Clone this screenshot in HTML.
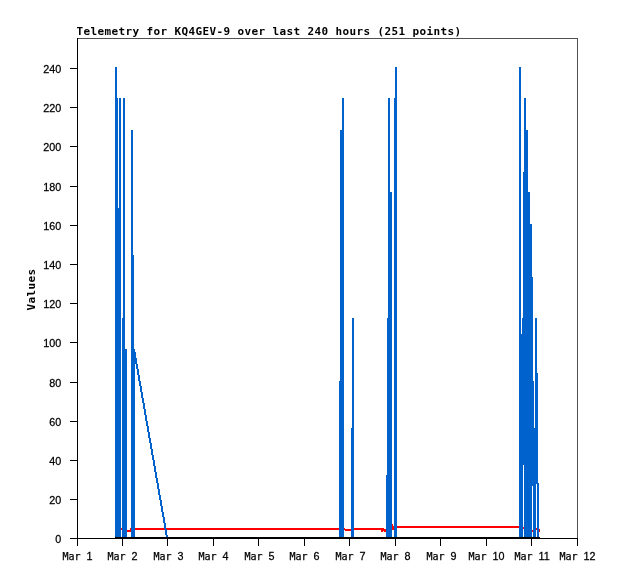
<!DOCTYPE html>
<html><head><meta charset="utf-8"><title>Telemetry for KQ4GEV-9</title>
<style>html,body{margin:0;padding:0;background:#fff;overflow:hidden}svg{display:block}.s{font-family:"DejaVu Sans Mono","Liberation Mono",monospace;font-size:10px;fill:#000;stroke:#000;stroke-width:.25px}.d{font-family:"Liberation Sans","DejaVu Sans",sans-serif;font-size:10.79px;fill:#000;stroke:#000;stroke-width:.25px}.b{font-family:"DejaVu Sans Mono","Liberation Mono",monospace;font-weight:bold;font-size:11px;letter-spacing:0.378px;fill:#000}</style></head><body>
<svg width="618" height="579" viewBox="0 0 618 579">
<rect x="0" y="0" width="618" height="579" fill="#fff"/>
<g shape-rendering="crispEdges">
<rect x="77" y="38" width="501" height="1" fill="#505050"/>
<rect x="577" y="38" width="1" height="501" fill="#505050"/>
<rect x="121" y="528" width="6" height="2" fill="#ff0000"/>
<rect x="127" y="530" width="4" height="2" fill="#ff0000"/>
<rect x="130" y="528" width="1" height="3" fill="#ff0000"/>
<rect x="131" y="528" width="209" height="2" fill="#ff0000"/>
<rect x="344" y="528" width="1" height="2" fill="#ff0000"/>
<rect x="345" y="529" width="6" height="2" fill="#ff0000"/>
<rect x="351" y="528" width="33" height="2" fill="#ff0000"/>
<rect x="381" y="530" width="2" height="2" fill="#ff0000"/>
<rect x="383" y="530" width="1" height="1" fill="#ff0000"/>
<rect x="384" y="529" width="2" height="3" fill="#ff0000"/>
<rect x="392" y="524" width="1" height="6" fill="#ff0000"/>
<rect x="393" y="526" width="1" height="4" fill="#ff0000"/>
<rect x="394" y="526" width="126" height="2" fill="#ff0000"/>
<rect x="523" y="527" width="1" height="2" fill="#ff0000"/>
<rect x="532" y="530" width="1" height="2" fill="#ff0000"/>
<rect x="536" y="528" width="1" height="2" fill="#ff0000"/>
<rect x="539" y="529" width="1" height="3" fill="#ff0000"/>
<rect x="115" y="67" width="2" height="470" fill="#0062cc"/>
<rect x="117" y="98" width="1" height="439" fill="#0062cc"/>
<rect x="118" y="208" width="1" height="329" fill="#0062cc"/>
<rect x="119" y="98" width="2" height="439" fill="#0062cc"/>
<rect x="122" y="318" width="1" height="219" fill="#0062cc"/>
<rect x="123" y="98" width="2" height="439" fill="#0062cc"/>
<rect x="125" y="349" width="2" height="188" fill="#0062cc"/>
<rect x="131" y="130" width="2" height="407" fill="#0062cc"/>
<rect x="133" y="255" width="1" height="282" fill="#0062cc"/>
<rect x="134" y="349" width="1" height="188" fill="#0062cc"/>
<rect x="339" y="381" width="1" height="156" fill="#0062cc"/>
<rect x="340" y="130" width="2" height="407" fill="#0062cc"/>
<rect x="342" y="98" width="2" height="439" fill="#0062cc"/>
<rect x="351" y="428" width="1" height="109" fill="#0062cc"/>
<rect x="352" y="318" width="2" height="219" fill="#0062cc"/>
<rect x="386" y="475" width="1" height="62" fill="#0062cc"/>
<rect x="387" y="318" width="1" height="219" fill="#0062cc"/>
<rect x="388" y="98" width="2" height="439" fill="#0062cc"/>
<rect x="390" y="192" width="2" height="345" fill="#0062cc"/>
<rect x="394" y="98" width="1" height="439" fill="#0062cc"/>
<rect x="395" y="67" width="2" height="470" fill="#0062cc"/>
<rect x="519" y="67" width="2" height="470" fill="#0062cc"/>
<rect x="521" y="334" width="1" height="203" fill="#0062cc"/>
<rect x="522" y="318" width="1" height="219" fill="#0062cc"/>
<rect x="523" y="172" width="1" height="293" fill="#0062cc"/>
<rect x="524" y="98" width="2" height="439" fill="#0062cc"/>
<rect x="526" y="130" width="2" height="407" fill="#0062cc"/>
<rect x="528" y="192" width="2" height="345" fill="#0062cc"/>
<rect x="530" y="224" width="2" height="313" fill="#0062cc"/>
<rect x="532" y="277" width="1" height="209" fill="#0062cc"/>
<rect x="533" y="381" width="1" height="156" fill="#0062cc"/>
<rect x="534" y="428" width="1" height="109" fill="#0062cc"/>
<rect x="535" y="318" width="1" height="219" fill="#0062cc"/>
<rect x="536" y="318" width="1" height="166" fill="#0062cc"/>
<rect x="537" y="373" width="1" height="164" fill="#0062cc"/>
<rect x="538" y="483" width="1" height="54" fill="#0062cc"/>
<rect x="133" y="349" width="2" height="3" fill="#0062cc"/>
<rect x="134" y="352" width="2" height="6" fill="#0062cc"/>
<rect x="135" y="358" width="2" height="6" fill="#0062cc"/>
<rect x="136" y="364" width="2" height="5" fill="#0062cc"/>
<rect x="137" y="369" width="2" height="6" fill="#0062cc"/>
<rect x="138" y="375" width="2" height="6" fill="#0062cc"/>
<rect x="139" y="381" width="2" height="5" fill="#0062cc"/>
<rect x="140" y="386" width="2" height="6" fill="#0062cc"/>
<rect x="141" y="392" width="2" height="6" fill="#0062cc"/>
<rect x="142" y="398" width="2" height="5" fill="#0062cc"/>
<rect x="143" y="403" width="2" height="6" fill="#0062cc"/>
<rect x="144" y="409" width="2" height="6" fill="#0062cc"/>
<rect x="145" y="415" width="2" height="6" fill="#0062cc"/>
<rect x="146" y="421" width="2" height="5" fill="#0062cc"/>
<rect x="147" y="426" width="2" height="6" fill="#0062cc"/>
<rect x="148" y="432" width="2" height="6" fill="#0062cc"/>
<rect x="149" y="438" width="2" height="5" fill="#0062cc"/>
<rect x="150" y="443" width="2" height="6" fill="#0062cc"/>
<rect x="151" y="449" width="2" height="6" fill="#0062cc"/>
<rect x="152" y="455" width="2" height="5" fill="#0062cc"/>
<rect x="153" y="460" width="2" height="6" fill="#0062cc"/>
<rect x="154" y="466" width="2" height="6" fill="#0062cc"/>
<rect x="155" y="472" width="2" height="6" fill="#0062cc"/>
<rect x="156" y="478" width="2" height="5" fill="#0062cc"/>
<rect x="157" y="483" width="2" height="6" fill="#0062cc"/>
<rect x="158" y="489" width="2" height="6" fill="#0062cc"/>
<rect x="159" y="495" width="2" height="5" fill="#0062cc"/>
<rect x="160" y="500" width="2" height="6" fill="#0062cc"/>
<rect x="161" y="506" width="2" height="6" fill="#0062cc"/>
<rect x="162" y="512" width="2" height="5" fill="#0062cc"/>
<rect x="163" y="517" width="2" height="6" fill="#0062cc"/>
<rect x="164" y="523" width="2" height="6" fill="#0062cc"/>
<rect x="165" y="529" width="2" height="6" fill="#0062cc"/>
<rect x="166" y="535" width="2" height="2" fill="#0062cc"/>
<rect x="115" y="537" width="425" height="2" fill="#000"/>
<rect x="77" y="38" width="1" height="508" fill="#000"/>
<rect x="70" y="538" width="508" height="1" fill="#000"/>
<rect x="70" y="538" width="7" height="1" fill="#000"/>
<rect x="70" y="499" width="7" height="1" fill="#000"/>
<rect x="70" y="460" width="7" height="1" fill="#000"/>
<rect x="70" y="421" width="7" height="1" fill="#000"/>
<rect x="70" y="382" width="7" height="1" fill="#000"/>
<rect x="70" y="342" width="7" height="1" fill="#000"/>
<rect x="70" y="303" width="7" height="1" fill="#000"/>
<rect x="70" y="264" width="7" height="1" fill="#000"/>
<rect x="70" y="225" width="7" height="1" fill="#000"/>
<rect x="70" y="186" width="7" height="1" fill="#000"/>
<rect x="70" y="146" width="7" height="1" fill="#000"/>
<rect x="70" y="107" width="7" height="1" fill="#000"/>
<rect x="70" y="68" width="7" height="1" fill="#000"/>
<rect x="77" y="538" width="1" height="8" fill="#000"/>
<rect x="122" y="538" width="1" height="8" fill="#000"/>
<rect x="167" y="538" width="1" height="8" fill="#000"/>
<rect x="213" y="538" width="1" height="8" fill="#000"/>
<rect x="258" y="538" width="1" height="8" fill="#000"/>
<rect x="304" y="538" width="1" height="8" fill="#000"/>
<rect x="349" y="538" width="1" height="8" fill="#000"/>
<rect x="395" y="538" width="1" height="8" fill="#000"/>
<rect x="440" y="538" width="1" height="8" fill="#000"/>
<rect x="486" y="538" width="1" height="8" fill="#000"/>
<rect x="531" y="538" width="1" height="8" fill="#000"/>
<rect x="577" y="538" width="1" height="8" fill="#000"/>
</g>
<text class="d" transform="translate(55.3,543) scale(1,1.04)">0</text>
<text class="d" transform="translate(49.3,504) scale(1,1.04)">20</text>
<text class="d" transform="translate(49.3,465) scale(1,1.04)">40</text>
<text class="d" transform="translate(49.3,426) scale(1,1.04)">60</text>
<text class="d" transform="translate(49.3,387) scale(1,1.04)">80</text>
<text class="d" transform="translate(43.3,347) scale(1,1.04)">100</text>
<text class="d" transform="translate(43.3,308) scale(1,1.04)">120</text>
<text class="d" transform="translate(43.3,269) scale(1,1.04)">140</text>
<text class="d" transform="translate(43.3,230) scale(1,1.04)">160</text>
<text class="d" transform="translate(43.3,191) scale(1,1.04)">180</text>
<text class="d" transform="translate(43.3,151) scale(1,1.04)">200</text>
<text class="d" transform="translate(43.3,112) scale(1,1.04)">220</text>
<text class="d" transform="translate(43.3,73) scale(1,1.04)">240</text>
<text class="s" x="62.5" y="560">Mar</text>
<text class="d" transform="translate(86.6,560) scale(1,1.04)">1</text>
<text class="s" x="107.5" y="560">Mar</text>
<text class="d" transform="translate(131.6,560) scale(1,1.04)">2</text>
<text class="s" x="153.5" y="560">Mar</text>
<text class="d" transform="translate(177.6,560) scale(1,1.04)">3</text>
<text class="s" x="198.5" y="560">Mar</text>
<text class="d" transform="translate(222.6,560) scale(1,1.04)">4</text>
<text class="s" x="244.5" y="560">Mar</text>
<text class="d" transform="translate(268.6,560) scale(1,1.04)">5</text>
<text class="s" x="289.5" y="560">Mar</text>
<text class="d" transform="translate(313.6,560) scale(1,1.04)">6</text>
<text class="s" x="335.5" y="560">Mar</text>
<text class="d" transform="translate(359.6,560) scale(1,1.04)">7</text>
<text class="s" x="380.5" y="560">Mar</text>
<text class="d" transform="translate(404.6,560) scale(1,1.04)">8</text>
<text class="s" x="426.5" y="560">Mar</text>
<text class="d" transform="translate(450.6,560) scale(1,1.04)">9</text>
<text class="s" x="468.5" y="560">Mar</text>
<text class="d" transform="translate(492.6,560) scale(1,1.04)">10</text>
<text class="s" x="514.5" y="560">Mar</text>
<text class="d" transform="translate(538.6,560) scale(1,1.04)">11</text>
<text class="s" x="559.5" y="560">Mar</text>
<text class="d" transform="translate(583.6,560) scale(1,1.04)">12</text>
<text class="b" transform="translate(76.5,35) scale(1,1)">Telemetry for KQ4GEV-9 over last 240 hours (251 points)</text>
<text class="b" transform="translate(35,310.5) rotate(-90) scale(1,1)">Values</text>
</svg></body></html>
